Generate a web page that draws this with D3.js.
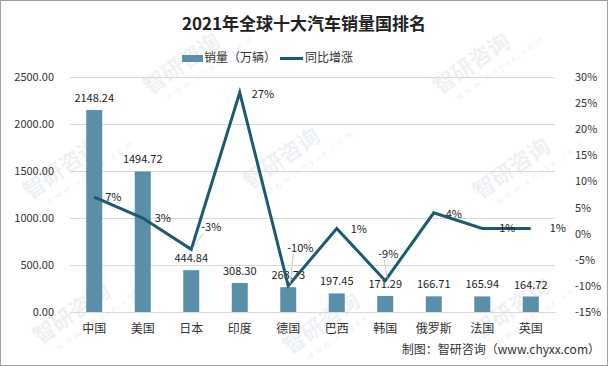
<!DOCTYPE html>
<html><head><meta charset="utf-8">
<script src="https://cdn.jsdelivr.net/npm/d3@7"></script>
<style>body{margin:0;background:#fff}svg{display:block}text{font-family:"Noto Sans CJK SC","Noto Sans",sans-serif}</style>
</head><body>
<svg id="c" width="608" height="366"></svg>
<script>
const categories = ["中国","美国","日本","印度","德国","巴西","韩国","俄罗斯","法国","英国"];
const sales = [2148.24,1494.72,444.84,308.30,263.73,197.45,171.29,166.71,165.94,164.72];
const growth = [7,3,-3,27,-10,1,-9,4,1,1];
const growthLabels = ["7%","3%","-3%","27%","-10%","1%","-9%","4%","1%","1%"];
const leftTicks = [0,500,1000,1500,2000,2500];
const rightTicks = [-15,-10,-5,0,5,10,15,20,25,30];
// label offsets (dx, dy) relative to line point
const labelOffsets = [[11,0],[12,0],[10,-22],[12,1],[-1,-38],[14,1],[-7,-27],[12,1],[17,0],[19,0]];

const svg = d3.select("#c");
const W=608,H=366;
svg.append("rect").attr("x",0.5).attr("y",0.5).attr("width",W-1).attr("height",H-1).attr("fill","#fff").attr("stroke","#a0a0a0");

// watermarks (kept fully inside the frame)
const wm = [[150,95],[440,95],[30,200],[250,190],[480,200],[40,345],[290,355],[480,340]];
wm.forEach(([x,y])=>{
  const g=svg.append("g").attr("transform",`translate(${x},${y}) rotate(-35)`).attr("opacity",0.09);
  g.append("text").attr("font-size",22).attr("font-weight","bold").attr("fill","#4a6a8a").text("智研咨询");
  g.append("text").attr("y",15).attr("x",12).attr("font-size",9).attr("letter-spacing",3).attr("fill","#4a6a8a").text("www.chyxx.com");
});

const m={l:70,r:53,t:77,b:54};
const x=d3.scaleBand().domain(categories).range([m.l,W-m.r]).paddingInner(0.67).paddingOuter(0.335);
const xc=d3.scaleBand().domain(categories).range([m.l,W-m.r]);
const y=d3.scaleLinear().domain([0,2500]).range([H-m.b,m.t]);
const y2=d3.scaleLinear().domain([-15,30]).range([H-m.b,m.t]);

// gridlines
svg.append("g").selectAll("line").data(leftTicks).join("line")
  .attr("x1",m.l).attr("x2",W-m.r).attr("y1",d=>y(d)+0.5).attr("y2",d=>y(d)+0.5)
  .attr("stroke","#d9d9d9");

// left axis
const la=svg.append("g").attr("transform",`translate(${m.l-13},0)`)
  .call(d3.axisLeft(y).tickValues(leftTicks).tickFormat(d3.format(".2f")).tickSize(0));
la.select(".domain").remove();
la.selectAll("text").attr("font-size",11).attr("fill","#333").attr("font-family","'Liberation Sans',sans-serif");

// right axis
const ra=svg.append("g").attr("transform",`translate(${W-m.r+17},0)`)
  .call(d3.axisRight(y2).tickValues(rightTicks).tickFormat(d=>d+"%").tickSize(0));
ra.select(".domain").remove();
ra.selectAll("text").attr("font-size",11).attr("fill","#333").attr("font-family","'Liberation Sans',sans-serif");

// bottom axis
const ba=svg.append("g").attr("transform",`translate(0,${H-m.b})`)
  .call(d3.axisBottom(xc).tickSize(0).tickPadding(12));
ba.select(".domain").attr("stroke","#d9d9d9");
ba.selectAll("text").attr("font-size",12).attr("fill","#333");

// bars
svg.append("g").selectAll("rect").data(sales).join("rect")
  .attr("x",(d,i)=>x(categories[i])).attr("width",x.bandwidth())
  .attr("y",d=>y(d)).attr("height",d=>y(0)-y(d)).attr("fill","#5b8ea7");

// bar labels
svg.append("g").selectAll("text").data(sales).join("text")
  .attr("x",(d,i)=>xc(categories[i])+xc.bandwidth()/2).attr("y",d=>y(d)-8)
  .attr("text-anchor","middle").attr("font-size",11).attr("fill","#222")
  .attr("font-family","'Liberation Sans',sans-serif")
  .text(d=>d.toFixed(2));

// line
const px=i=>xc(categories[i])+xc.bandwidth()/2;
const line=d3.line().x((d,i)=>px(i)).y(d=>y2(d));
svg.append("path").datum(growth).attr("d",line).attr("fill","none")
  .attr("stroke","#1c5b6f").attr("stroke-width",3).attr("stroke-linejoin","miter");

// leader lines for moved labels
[2,4,6].forEach(i=>{
  const [dx,dy]=labelOffsets[i];
  svg.append("line").attr("x1",px(i)+2).attr("y1",y2(growth[i])-2)
    .attr("x2",px(i)+dx+ (i===2?2:6)).attr("y2",y2(growth[i])+dy+6)
    .attr("stroke","#bbb").attr("stroke-width",0.8);
});

svg.append("g").selectAll("text").data(growth).join("text")
  .attr("x",(d,i)=>px(i)+labelOffsets[i][0]).attr("y",(d,i)=>y2(d)+labelOffsets[i][1])
  .attr("dy","0.35em").attr("font-size",11).attr("fill","#222")
  .attr("font-family","'Liberation Sans',sans-serif")
  .text((d,i)=>growthLabels[i]);

// title
svg.append("text").attr("x",W/2).attr("y",30).attr("text-anchor","middle")
  .attr("font-size",17).attr("font-weight","bold").attr("fill","#222")
  .text("2021年全球十大汽车销量国排名");

// legend
const lg=svg.append("g");
lg.append("rect").attr("x",182).attr("y",55).attr("width",21).attr("height",7).attr("fill","#5b8ea7");
lg.append("text").attr("x",204).attr("y",58).attr("dy","0.35em").attr("font-size",12).attr("fill","#333").text("销量（万辆）");
lg.append("line").attr("x1",280).attr("x2",303).attr("y1",58.5).attr("y2",58.5).attr("stroke","#1c5b6f").attr("stroke-width",3);
lg.append("text").attr("x",305).attr("y",58).attr("dy","0.35em").attr("font-size",12).attr("fill","#333").text("同比增涨");

// source
svg.append("text").attr("x",W-8).attr("y",354).attr("text-anchor","end")
  .attr("font-size",12).attr("fill","#333").text("制图：智研咨询（www.chyxx.com）");
</script>
</body></html>
